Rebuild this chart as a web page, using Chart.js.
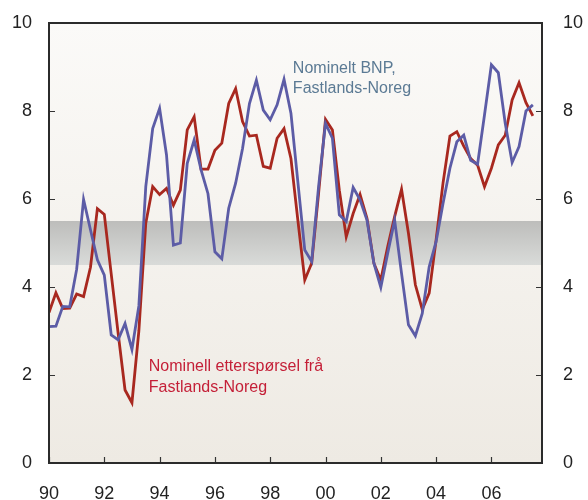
<!DOCTYPE html>
<html>
<head>
<meta charset="utf-8">
<script src="https://cdn.jsdelivr.net/npm/chart.js@4/dist/chart.umd.min.js"></script>
<style>
  html, body { margin: 0; padding: 0; background: #ffffff; }
  #wrap { width: 588px; height: 500px; position: relative; }
</style>
</head>
<body>
<div id="wrap"><canvas id="c" width="588" height="500"></canvas></div>
<script>
// ---- Data (quarterly, 1990 Q1 - 2007 Q3), per cent ----
const startYear = 1990;
const quarters = [
  "1990K1","1990K2","1990K3","1990K4","1991K1","1991K2","1991K3","1991K4",
  "1992K1","1992K2","1992K3","1992K4","1993K1","1993K2","1993K3","1993K4",
  "1994K1","1994K2","1994K3","1994K4","1995K1","1995K2","1995K3","1995K4",
  "1996K1","1996K2","1996K3","1996K4","1997K1","1997K2","1997K3","1997K4",
  "1998K1","1998K2","1998K3","1998K4","1999K1","1999K2","1999K3","1999K4",
  "2000K1","2000K2","2000K3","2000K4","2001K1","2001K2","2001K3","2001K4",
  "2002K1","2002K2","2002K3","2002K4","2003K1","2003K2","2003K3","2003K4",
  "2004K1","2004K2","2004K3","2004K4","2005K1","2005K2","2005K3","2005K4",
  "2006K1","2006K2","2006K3","2006K4","2007K1","2007K2","2007K3"
];
const bnpFastland = [
  3.10, 3.11, 3.56, 3.55, 4.40, 5.99, 5.30, 4.62,
  4.27, 2.91, 2.80, 3.17, 2.58, 3.57, 6.28, 7.60,
  8.06, 7.00, 4.95, 5.00, 6.81, 7.34, 6.66, 6.12,
  4.80, 4.64, 5.79, 6.36, 7.15, 8.17, 8.70, 8.02,
  7.80, 8.14, 8.72, 7.95, 6.39, 4.84, 4.58, 6.28,
  7.72, 7.38, 5.64, 5.49, 6.26, 5.98, 5.52, 4.54,
  3.99, 4.77, 5.52, 4.31, 3.14, 2.89, 3.40, 4.46,
  5.03, 5.90, 6.70, 7.30, 7.45, 6.88, 6.79, 7.91,
  9.05, 8.87, 7.72, 6.83, 7.19, 8.00, 8.14
];
const ettersporselFastland = [
  3.42, 3.87, 3.51, 3.52, 3.84, 3.78, 4.45, 5.78,
  5.65, 4.30, 2.95, 1.66, 1.37, 3.00, 5.45, 6.28,
  6.10, 6.24, 5.86, 6.20, 7.57, 7.87, 6.68, 6.68,
  7.11, 7.27, 8.17, 8.51, 7.76, 7.43, 7.45, 6.74,
  6.70, 7.38, 7.60, 6.92, 5.52, 4.16, 4.54, 6.13,
  7.81, 7.57, 6.20, 5.14, 5.67, 6.10, 5.56, 4.54,
  4.16, 4.92, 5.60, 6.22, 5.22, 4.05, 3.49, 3.86,
  5.07, 6.36, 7.43, 7.53, 7.20, 6.92, 6.77, 6.28,
  6.70, 7.23, 7.45, 8.25, 8.64, 8.19, 7.89
];
const xTickYears = [1990, 1992, 1994, 1996, 1998, 2000, 2002, 2004, 2006];
const xTickLabels = ["90", "92", "94", "96", "98", "00", "02", "04", "06"];
const yTicks = [0, 2, 4, 6, 8, 10];
const bandRange = [4.5, 5.5];
const labelBnp = ["Nominelt BNP,", "Fastlands-Noreg"];
const labelEtt = ["Nominell etterspørsel frå", "Fastlands-Noreg"];
const labelBnpAnchor = { x: 1998.82, y: 8.87 };
const labelEttAnchor = { x: 1993.61, y: 2.10 };

// ---- helpers ----
function toPoints(values) {
  return values.map((v, i) => ({ x: startYear + i / 4, y: v }));
}
const FONT = "'Liberation Sans', Arial, Helvetica, sans-serif";

const decorPlugin = {
  id: 'decor',
  beforeDatasetsDraw(chart) {
    const { ctx, chartArea: a, scales } = chart;
    ctx.save();
    const bg = ctx.createLinearGradient(0, a.top, 0, a.bottom);
    bg.addColorStop(0, '#fbfaf8');
    bg.addColorStop(1, '#eeeae3');
    ctx.fillStyle = bg;
    ctx.fillRect(a.left, a.top, a.right - a.left, a.bottom - a.top);
    const yTop = scales.y.getPixelForValue(bandRange[1]);
    const yBot = scales.y.getPixelForValue(bandRange[0]);
    const g = ctx.createLinearGradient(0, yTop, 0, yBot);
    g.addColorStop(0, '#bdbdbb');
    g.addColorStop(1, '#d9dbd9');
    ctx.fillStyle = g;
    ctx.fillRect(a.left, yTop, a.right - a.left, yBot - yTop);
    ctx.restore();
  },
  afterDatasetsDraw(chart) {
    const { ctx, chartArea: a, scales } = chart;
    ctx.save();
    // annotations
    ctx.font = '16px ' + FONT;
    ctx.textAlign = 'left';
    ctx.textBaseline = 'alphabetic';
    let px = scales.x.getPixelForValue(labelBnpAnchor.x);
    let py = scales.y.getPixelForValue(labelBnpAnchor.y);
    ctx.fillStyle = '#5b7a94';
    labelBnp.forEach((t, i) => ctx.fillText(t, px, py + i * 20));
    px = scales.x.getPixelForValue(labelEttAnchor.x);
    py = scales.y.getPixelForValue(labelEttAnchor.y);
    ctx.fillStyle = '#c41f37';
    labelEtt.forEach((t, i) => ctx.fillText(t, px, py + i * 21));

    // inside tick marks
    ctx.strokeStyle = '#333333';
    ctx.lineWidth = 1.2;
    const tl = 6;
    yTicks.forEach(v => {
      const y = Math.round(scales.y.getPixelForValue(v)) + 0.5;
      ctx.beginPath();
      ctx.moveTo(a.left, y); ctx.lineTo(a.left + tl, y);
      ctx.moveTo(a.right, y); ctx.lineTo(a.right - tl, y);
      ctx.stroke();
    });
    xTickYears.forEach(v => {
      const x = Math.round(scales.x.getPixelForValue(v)) + 0.5;
      ctx.beginPath();
      ctx.moveTo(x, a.bottom); ctx.lineTo(x, a.bottom - tl);
      ctx.stroke();
    });
    // frame
    ctx.strokeStyle = '#2b2b2b';
    ctx.lineWidth = 2;
    ctx.strokeRect(a.left, a.top, a.right - a.left, a.bottom - a.top);
    ctx.restore();
  }
};

new Chart(document.getElementById('c'), {
  type: 'line',
  data: {
    labels: quarters,
    datasets: [
      {
        label: 'Nominelt BNP, Fastlands-Noreg',
        data: toPoints(bnpFastland),
        borderColor: '#5c5ca6',
        borderWidth: 2.8,
        pointRadius: 0,
        tension: 0,
        fill: false,
        yAxisID: 'y'
      },
      {
        label: 'Nominell etterspørsel frå Fastlands-Noreg',
        data: toPoints(ettersporselFastland),
        borderColor: '#a8281f',
        borderWidth: 2.8,
        pointRadius: 0,
        tension: 0,
        fill: false,
        yAxisID: 'y'
      }
    ]
  },
  options: {
    responsive: false,
    animation: false,
    parsing: true,
    layout: { padding: { top: 23, left: 0, right: 0, bottom: 0 } },
    plugins: {
      legend: { display: false },
      tooltip: { enabled: false },
      title: { display: false }
    },
    scales: {
      x: {
        type: 'linear',
        min: 1990,
        max: 2007.83,
        grid: { display: false, drawTicks: false },
        border: { display: false },
        afterBuildTicks: s => { s.ticks = xTickYears.map(v => ({ value: v })); },
        afterFit: s => { s.height = 37; s.paddingLeft = 0; s.paddingRight = 0; },
        ticks: {
          autoSkip: false,
          maxRotation: 0,
          padding: 20,
          color: '#222222',
          font: { family: FONT, size: 18 },
          callback: (v) => xTickLabels[xTickYears.indexOf(v)]
        }
      },
      y: {
        position: 'left',
        min: 0, max: 10,
        grid: { display: false, drawTicks: false },
        border: { display: false },
        afterFit: s => { s.width = 49; s.paddingTop = 0; s.paddingBottom = 0; },
        afterBuildTicks: s => { s.ticks = yTicks.map(v => ({ value: v })); },
        ticks: {
          padding: 17,
          color: '#222222',
          font: { family: FONT, size: 18 }
        }
      },
      y2: {
        position: 'right',
        min: 0, max: 10,
        grid: { display: false, drawTicks: false },
        border: { display: false },
        afterFit: s => { s.width = 46; s.paddingTop = 0; s.paddingBottom = 0; },
        afterBuildTicks: s => { s.ticks = yTicks.map(v => ({ value: v })); },
        ticks: {
          padding: 21,
          color: '#222222',
          font: { family: FONT, size: 18 }
        }
      }
    }
  },
  plugins: [decorPlugin]
});
</script>
</body>
</html>
